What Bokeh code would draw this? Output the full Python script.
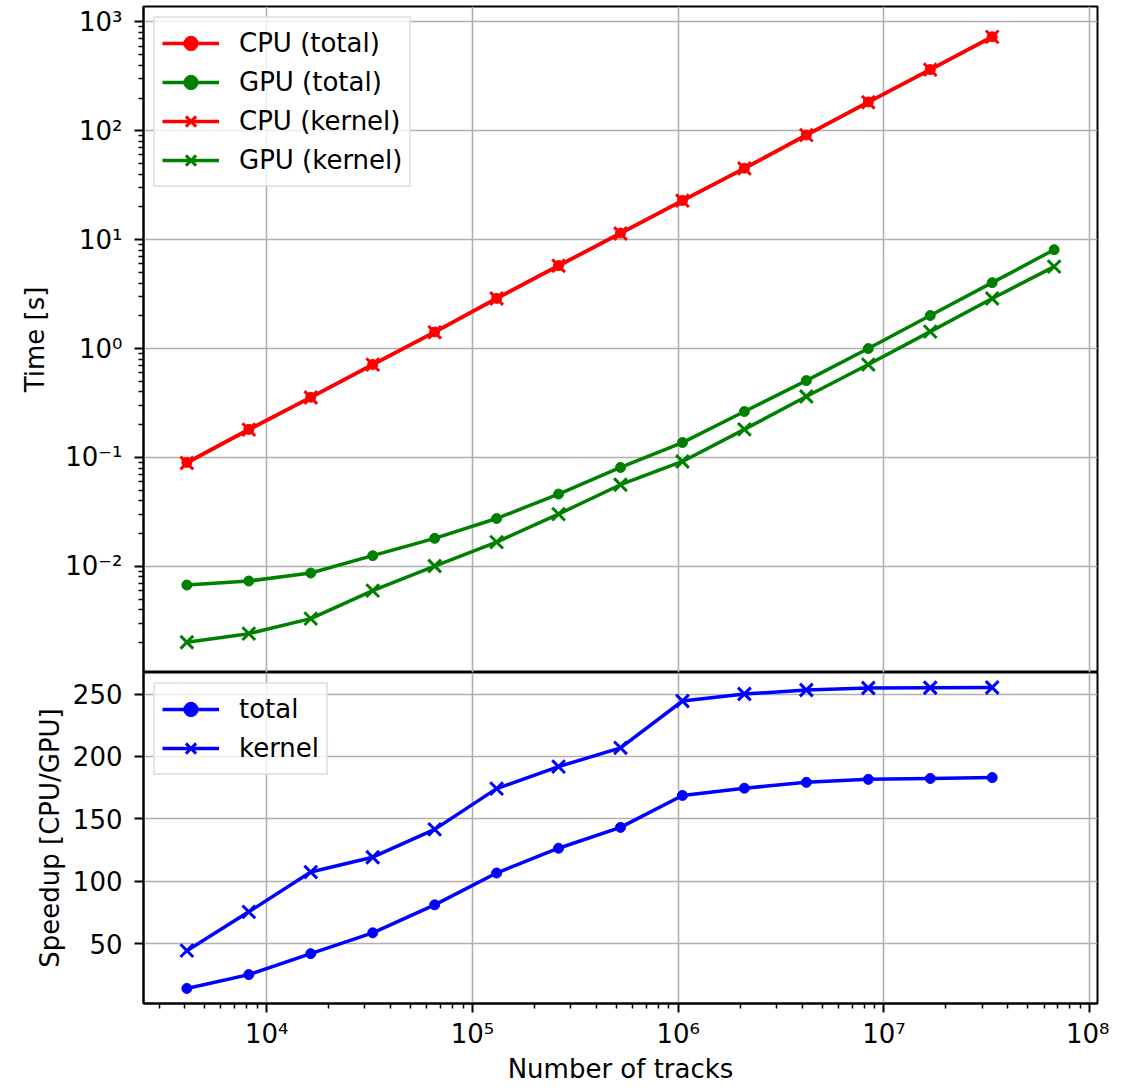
import math
from bokeh.plotting import figure
from bokeh.layouts import column
from bokeh.models import (Range1d, FixedTicker, CustomJSTickFormatter, Legend, LegendItem)
from bokeh.embed import file_html
from bokeh.resources import INLINE

# ---------------- data ----------------
tracks = [4096, 8192, 16384, 32768, 65536, 131072, 262144, 524288, 1048576,
          2097152, 4194304, 8388608, 16777216, 33554432, 67108864]
cpu_total = [0.090, 0.181, 0.357, 0.714, 1.42, 2.89, 5.78, 11.5, 22.9, 45.3, 91.5, 184, 365, 730]
cpu_kernel = [0.089, 0.180, 0.355, 0.712, 1.41, 2.88, 5.76, 11.4, 22.8, 45.1, 91.2, 183, 364, 728]
gpu_total = [0.00673, 0.00733, 0.00868, 0.01253, 0.01807, 0.0275, 0.0461, 0.0809, 0.137,
             0.264, 0.508, 1.00, 2.01, 4.03, 8.09]
gpu_kernel = [0.00201, 0.00241, 0.00331, 0.00598, 0.01007, 0.0167, 0.0302, 0.0562, 0.0919,
              0.181, 0.363, 0.713, 1.43, 2.88, 5.65]
speedup_total = [14.0, 25.1, 41.9, 58.6, 81.0, 106.5, 126.4, 143.1, 168.7, 174.5, 179.2, 181.6, 182.3, 183.0]
speedup_kernel = [44.3, 75.4, 107.3, 119.2, 141.5, 174.2, 191.8, 206.9, 244.4, 250.0, 253.2, 254.8, 255.0, 255.2]

x_major = [1e4, 1e5, 1e6, 1e7, 1e8]
x_minor = [m * 10 ** k for k in range(3, 8) for m in range(2, 10)]
ytop_major = [1e-2, 1e-1, 1e0, 1e1, 1e2, 1e3]
ytop_minor = [m * 10 ** k for k in range(-3, 3) for m in range(2, 10)]
ybot_major = [50, 100, 150, 200, 250]

FONT = "DejaVu Sans"
FS = "26px"
RED, GREEN, BLUE = "#ff0000", "#008000", "#0000ff"

# ranges with matplotlib-like 5% margins
lx0, lx1 = math.log10(min(tracks)), math.log10(max(tracks))
mx = 0.05 * (lx1 - lx0)
x_range = Range1d(10 ** (lx0 - mx), 10 ** (lx1 + mx))
allt = cpu_total + cpu_kernel + gpu_total + gpu_kernel
ly0, ly1 = math.log10(min(allt)), math.log10(max(allt))
my = 0.05 * (ly1 - ly0)
ytop_range = Range1d(10 ** (ly0 - my), 10 ** (ly1 + my))
alls = speedup_total + speedup_kernel
s0, s1 = min(alls), max(alls)
ms = 0.05 * (s1 - s0)
ybot_range = Range1d(s0 - ms, s1 + ms)

sup_fmt = CustomJSTickFormatter(code=r"""
const sup = {"0":"\u2070","1":"\u00b9","2":"\u00b2","3":"\u00b3","4":"\u2074",
             "5":"\u2075","6":"\u2076","7":"\u2077","8":"\u2078","9":"\u2079","-":"\u207b"};
const e = Math.round(Math.log10(tick));
return "10" + String(e).split("").map(c => sup[c]).join("");
""")


def style_axis(ax):
    ax.axis_line_color = "black"
    ax.axis_line_width = 2
    ax.major_tick_line_color = "black"
    ax.major_tick_line_width = 2
    ax.minor_tick_line_color = "black"
    ax.minor_tick_line_width = 1.5
    ax.major_tick_out = 9
    ax.major_tick_in = 0
    ax.minor_tick_out = 5
    ax.minor_tick_in = 0
    ax.major_label_text_font = FONT
    ax.major_label_text_font_size = FS
    ax.major_label_text_color = "black"
    ax.axis_label_text_font = FONT
    ax.axis_label_text_font_size = FS
    ax.axis_label_text_font_style = "normal"
    ax.axis_label_text_color = "black"
    ax.major_label_standoff = 12
    ax.axis_label_standoff = 10


def style_fig(p):
    p.outline_line_color = "black"
    p.outline_line_width = 2
    p.outline_line_alpha = 1
    for g in (p.xgrid[0], p.ygrid[0]):
        g.grid_line_color = "#b0b0b0"
        g.grid_line_width = 1.6
    p.background_fill_color = "white"
    p.border_fill_color = "white"


def make_legend(items, fs=FS):
    lg = Legend(items=items, location="top_left")
    lg.label_text_font = FONT
    lg.label_text_font_size = fs
    lg.label_text_color = "black"
    lg.border_line_color = "#cccccc"
    lg.border_line_width = 2
    lg.background_fill_color = "white"
    lg.background_fill_alpha = 0.8
    lg.glyph_width = 57
    lg.glyph_height = 36
    lg.label_height = 30
    lg.label_standoff = 20
    lg.spacing = 3
    lg.padding = 7
    lg.margin = 10
    return lg


# ---------------- top panel ----------------
top = figure(frame_width=954, frame_height=666, x_axis_type="log", y_axis_type="log",
             x_range=x_range, y_range=ytop_range, output_backend="svg",
             toolbar_location=None, min_border_left=143, min_border_right=12,
             min_border_top=6, min_border_bottom=0)
top.xaxis.ticker = FixedTicker(ticks=x_major, minor_ticks=x_minor)
top.yaxis.ticker = FixedTicker(ticks=ytop_major, minor_ticks=ytop_minor)
top.yaxis.formatter = sup_fmt
top.xaxis.visible = False
top.yaxis.axis_label = "Time [s]"
style_axis(top.yaxis[0])
top.yaxis.axis_label_standoff = 12
style_fig(top)

n_cpu = len(cpu_total)
l1 = top.line(tracks[:n_cpu], cpu_total, line_color=RED, line_width=3.5)
m1 = top.scatter(tracks[:n_cpu], cpu_total, marker="circle", size=10, color=RED)
l2 = top.line(tracks, gpu_total, line_color=GREEN, line_width=3.5)
m2 = top.scatter(tracks, gpu_total, marker="circle", size=10, color=GREEN)
l3 = top.line(tracks[:n_cpu], cpu_kernel, line_color=RED, line_width=3.5)
m3 = top.scatter(tracks[:n_cpu], cpu_kernel, marker="x", size=18, line_color=RED, line_width=3)
l4 = top.line(tracks, gpu_kernel, line_color=GREEN, line_width=3.5)
m4 = top.scatter(tracks, gpu_kernel, marker="x", size=18, line_color=GREEN, line_width=3)

top.add_layout(make_legend([
    LegendItem(label="CPU (total)", renderers=[l1, m1]),
    LegendItem(label="GPU (total)", renderers=[l2, m2]),
    LegendItem(label="CPU (kernel)", renderers=[l3, m3]),
    LegendItem(label="GPU (kernel)", renderers=[l4, m4]),
]))

# ---------------- bottom panel ----------------
bot = figure(frame_width=954, frame_height=331, x_axis_type="log",
             x_range=x_range, y_range=ybot_range, output_backend="svg",
             toolbar_location=None, min_border_left=143, min_border_right=12,
             min_border_top=0, min_border_bottom=0)
bot.xaxis.ticker = FixedTicker(ticks=x_major, minor_ticks=x_minor)
bot.xaxis.formatter = sup_fmt
bot.yaxis.ticker = FixedTicker(ticks=ybot_major, minor_ticks=[])
bot.xaxis.axis_label = "Number of tracks"
bot.yaxis.axis_label = "Speedup [CPU/GPU]"
style_axis(bot.xaxis[0])
style_axis(bot.yaxis[0])
bot.xaxis.major_label_standoff = 6
bot.xaxis.axis_label_standoff = 2
bot.yaxis.axis_label_standoff = 5
style_fig(bot)

n_s = len(speedup_total)
b1 = bot.line(tracks[:n_s], speedup_total, line_color=BLUE, line_width=3.5)
bm1 = bot.scatter(tracks[:n_s], speedup_total, marker="circle", size=10, color=BLUE)
b2 = bot.line(tracks[:n_s], speedup_kernel, line_color=BLUE, line_width=3.5)
bm2 = bot.scatter(tracks[:n_s], speedup_kernel, marker="x", size=18, line_color=BLUE, line_width=3)
bot.add_layout(make_legend([
    LegendItem(label="total", renderers=[b1, bm1]),
    LegendItem(label="kernel", renderers=[b2, bm2]),
]))

layout = column(top, bot, spacing=0)
with open("out.html", "w", encoding="utf-8") as f:
    f.write(file_html(layout, INLINE))
